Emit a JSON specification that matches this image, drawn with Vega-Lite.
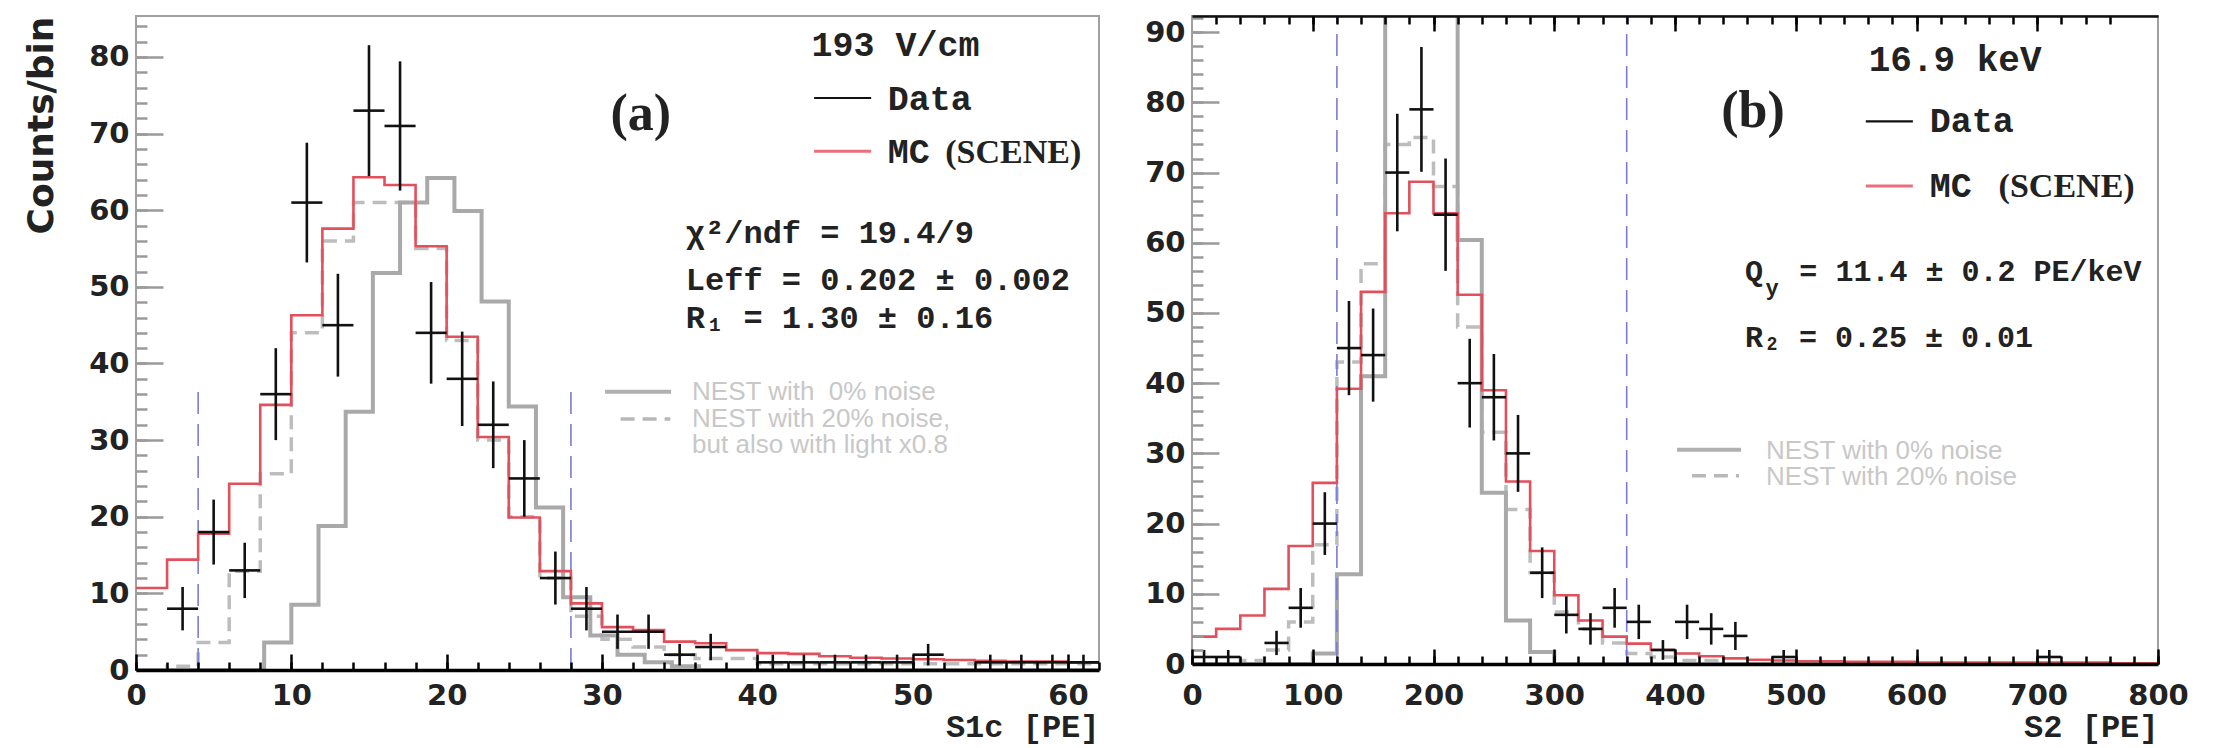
{
  "$schema": "https://vega.github.io/schema/vega-lite/v6.json",
  "background": "white",
  "padding": {"left": 22, "top": 13, "right": 0, "bottom": 20},
  "spacing": 35,
  "config": {
    "view": {"stroke": "#a0a0a0", "strokeWidth": 2},
    "axis": {"grid": false}
  },
  "datasets": {
    "a_nest0": [{"x":0,"y":0},{"x":8.25,"y":3.6},{"x":10,"y":8.5},{"x":11.75,"y":18.8},{"x":13.5,"y":33.7},{"x":15.25,"y":51.8},{"x":17,"y":61},{"x":18.75,"y":64.2},{"x":20.5,"y":59.9},{"x":22.25,"y":48.1},{"x":24,"y":34.4},{"x":25.75,"y":21.2},{"x":27.5,"y":9.5},{"x":29.25,"y":4.5},{"x":31,"y":2},{"x":32.75,"y":1},{"x":34.5,"y":0.5},{"x":36.25,"y":0},{"x":62,"y":0}],
    "a_nest20": [{"x":0,"y":0},{"x":2,"y":0.5},{"x":4,"y":3.6},{"x":6,"y":12.9},{"x":8,"y":25.6},{"x":10,"y":44},{"x":12,"y":56},{"x":14,"y":61},{"x":16,"y":61},{"x":18,"y":55},{"x":20,"y":43},{"x":22,"y":30},{"x":24,"y":20},{"x":26,"y":12},{"x":28,"y":7},{"x":30,"y":4},{"x":32,"y":3},{"x":34,"y":2},{"x":36,"y":1.5},{"x":40,"y":0.8},{"x":62,"y":0.8}],
    "a_mc": [{"x":0,"y":10.7},{"x":2,"y":14.4},{"x":4,"y":17.8},{"x":6,"y":24.3},{"x":8,"y":34.6},{"x":10,"y":46.3},{"x":12,"y":57.6},{"x":14,"y":64.3},{"x":16,"y":63.3},{"x":18,"y":55.3},{"x":20,"y":43.5},{"x":22,"y":30.4},{"x":24,"y":19.9},{"x":26,"y":12.9},{"x":28,"y":8.7},{"x":30,"y":5.6},{"x":32,"y":5.2},{"x":34,"y":3.7},{"x":36,"y":3.5},{"x":38,"y":2.6},{"x":40,"y":2.2},{"x":42,"y":2.1},{"x":44,"y":1.8},{"x":46,"y":1.6},{"x":48,"y":1.5},{"x":50,"y":1.4},{"x":52,"y":1.3},{"x":54,"y":1.2},{"x":56,"y":1.1},{"x":58,"y":1.1},{"x":60,"y":1},{"x":62,"y":1}],
    "a_data": [
      {"x":3,"y":8,"lo":5.17,"hi":10.83,"xl":2,"xr":4},
      {"x":5,"y":18,"lo":13.76,"hi":22.24,"xl":4,"xr":6},
      {"x":7,"y":13,"lo":9.39,"hi":16.61,"xl":6,"xr":8},
      {"x":9,"y":36,"lo":30,"hi":42,"xl":8,"xr":10},
      {"x":11,"y":61,"lo":53.19,"hi":68.81,"xl":10,"xr":12},
      {"x":13,"y":45,"lo":38.29,"hi":51.71,"xl":12,"xr":14},
      {"x":15,"y":73,"lo":64.46,"hi":81.54,"xl":14,"xr":16},
      {"x":17,"y":71,"lo":62.57,"hi":79.43,"xl":16,"xr":18},
      {"x":19,"y":44,"lo":37.37,"hi":50.63,"xl":18,"xr":20},
      {"x":21,"y":38,"lo":31.84,"hi":44.16,"xl":20,"xr":22},
      {"x":23,"y":32,"lo":26.34,"hi":37.66,"xl":22,"xr":24},
      {"x":25,"y":25,"lo":20,"hi":30,"xl":24,"xr":26},
      {"x":27,"y":12,"lo":8.54,"hi":15.46,"xl":26,"xr":28},
      {"x":29,"y":8,"lo":5.17,"hi":10.83,"xl":28,"xr":30},
      {"x":31,"y":5,"lo":2.76,"hi":7.24,"xl":30,"xr":32},
      {"x":33,"y":5,"lo":2.76,"hi":7.24,"xl":32,"xr":34},
      {"x":35,"y":2,"lo":0.59,"hi":3.41,"xl":34,"xr":36},
      {"x":37,"y":3,"lo":1.27,"hi":4.73,"xl":36,"xr":38},
      {"x":41,"y":1,"lo":0,"hi":2,"xl":40,"xr":42},
      {"x":43,"y":1,"lo":0,"hi":2,"xl":42,"xr":44},
      {"x":45,"y":1,"lo":0,"hi":2,"xl":44,"xr":46},
      {"x":47,"y":1,"lo":0,"hi":2,"xl":46,"xr":48},
      {"x":49,"y":1,"lo":0,"hi":2,"xl":48,"xr":50},
      {"x":51,"y":2,"lo":0.59,"hi":3.41,"xl":50,"xr":52},
      {"x":55,"y":1,"lo":0,"hi":2,"xl":54,"xr":56},
      {"x":57,"y":1,"lo":0,"hi":2,"xl":56,"xr":58},
      {"x":59,"y":1,"lo":0,"hi":2,"xl":58,"xr":60},
      {"x":61,"y":1,"lo":0,"hi":2,"xl":60,"xr":62}
    ],
    "b_nest0": [{"x":0,"y":0},{"x":100,"y":1.5},{"x":120,"y":12.8},{"x":140,"y":41},{"x":160,"y":100},{"x":220,"y":60.4},{"x":240,"y":24.4},{"x":260,"y":6.2},{"x":280,"y":1.7},{"x":300,"y":0},{"x":800,"y":0}],
    "b_nest20": [{"x":0,"y":0},{"x":40,"y":0.5},{"x":60,"y":2},{"x":80,"y":6},{"x":100,"y":17},{"x":120,"y":43},{"x":140,"y":57},{"x":160,"y":74},{"x":180,"y":75},{"x":200,"y":68},{"x":220,"y":48},{"x":240,"y":33},{"x":260,"y":22},{"x":280,"y":13},{"x":300,"y":7.4},{"x":320,"y":5},{"x":340,"y":3},{"x":360,"y":1.5},{"x":380,"y":1},{"x":400,"y":0.5},{"x":440,"y":0},{"x":800,"y":0}],
    "b_mc": [{"x":0,"y":3.9},{"x":20,"y":5},{"x":40,"y":6.9},{"x":60,"y":10.7},{"x":80,"y":16.8},{"x":100,"y":25.8},{"x":120,"y":39.2},{"x":140,"y":53},{"x":160,"y":64.2},{"x":180,"y":68.7},{"x":200,"y":64.2},{"x":220,"y":52.6},{"x":240,"y":39},{"x":260,"y":26},{"x":280,"y":16.1},{"x":300,"y":9.8},{"x":320,"y":6.2},{"x":340,"y":3.9},{"x":360,"y":2.9},{"x":380,"y":2},{"x":400,"y":1.5},{"x":420,"y":1.1},{"x":440,"y":0.8},{"x":460,"y":0.6},{"x":480,"y":0.5},{"x":500,"y":0.4},{"x":540,"y":0.3},{"x":600,"y":0.2},{"x":700,"y":0.2},{"x":760,"y":0.1},{"x":800,"y":0.1}],
    "b_data": [
      {"x":10,"y":1,"lo":0,"hi":2,"xl":0,"xr":20},
      {"x":30,"y":1,"lo":0,"hi":2,"xl":20,"xr":40},
      {"x":70,"y":3,"lo":1.27,"hi":4.73,"xl":60,"xr":80},
      {"x":90,"y":8,"lo":5.17,"hi":10.83,"xl":80,"xr":100},
      {"x":110,"y":20,"lo":15.53,"hi":24.47,"xl":100,"xr":120},
      {"x":130,"y":45,"lo":38.29,"hi":51.71,"xl":120,"xr":140},
      {"x":150,"y":44,"lo":37.37,"hi":50.63,"xl":140,"xr":160},
      {"x":170,"y":70,"lo":61.63,"hi":78.37,"xl":160,"xr":180},
      {"x":190,"y":79,"lo":70.11,"hi":87.89,"xl":180,"xr":200},
      {"x":210,"y":64,"lo":56,"hi":72,"xl":200,"xr":220},
      {"x":230,"y":40,"lo":33.68,"hi":46.32,"xl":220,"xr":240},
      {"x":250,"y":38,"lo":31.84,"hi":44.16,"xl":240,"xr":260},
      {"x":270,"y":30,"lo":24.52,"hi":35.48,"xl":260,"xr":280},
      {"x":290,"y":13,"lo":9.39,"hi":16.61,"xl":280,"xr":300},
      {"x":310,"y":7,"lo":4.35,"hi":9.65,"xl":300,"xr":320},
      {"x":330,"y":5,"lo":2.76,"hi":7.24,"xl":320,"xr":340},
      {"x":350,"y":8,"lo":5.17,"hi":10.83,"xl":340,"xr":360},
      {"x":370,"y":6,"lo":3.55,"hi":8.45,"xl":360,"xr":380},
      {"x":390,"y":2,"lo":0.59,"hi":3.41,"xl":380,"xr":400},
      {"x":410,"y":6,"lo":3.55,"hi":8.45,"xl":400,"xr":420},
      {"x":430,"y":5,"lo":2.76,"hi":7.24,"xl":420,"xr":440},
      {"x":450,"y":4,"lo":2,"hi":6,"xl":440,"xr":460},
      {"x":490,"y":1,"lo":0,"hi":2,"xl":480,"xr":500},
      {"x":710,"y":1,"lo":0,"hi":2,"xl":700,"xr":720}
    ]
  },
  "hconcat": [
    {
      "width": 963,
      "height": 654,
      "resolve": {"axis": {"x": "independent", "y": "independent"}},
      "layer": [
        {
          "data": {"name": "a_nest20"},
          "mark": {"type": "line", "interpolate": "step-after", "color": "#bdbdbd", "strokeWidth": 3.5, "strokeDash": [14, 8]},
          "encoding": {
            "x": {"field": "x", "type": "quantitative", "scale": {"domain": [0, 62], "nice": false, "zero": false},
              "axis": {"orient": "bottom", "values": [0,2,4,6,8,10,12,14,16,18,20,22,24,26,28,30,32,34,36,38,40,42,44,46,48,50,52,54,56,58,60,62], "tickSize": -8, "tickColor": "black", "tickWidth": 2.5, "labels": false, "domain": false, "title": null, "zindex": 2}},
            "y": {"field": "y", "type": "quantitative", "scale": {"domain": [0, 85.35], "nice": false, "zero": false},
              "axis": {"orient": "left", "values": [0,2,4,6,8,10,12,14,16,18,20,22,24,26,28,30,32,34,36,38,40,42,44,46,48,50,52,54,56,58,60,62,64,66,68,70,72,74,76,78,80,82,84], "tickSize": -11, "tickColor": "#9a9a9a", "tickWidth": 2.5, "labels": false, "domain": false, "title": null, "zindex": 1}}
          }
        },
        {
          "data": {"name": "a_nest0"},
          "mark": {"type": "line", "interpolate": "step-after", "color": "#a9a9a9", "strokeWidth": 4},
          "encoding": {
            "x": {"field": "x", "type": "quantitative", "scale": {"domain": [0, 62], "nice": false, "zero": false},
              "axis": {"orient": "bottom", "values": [0,10,20,30,40,50,60], "format": "d", "tickSize": -16, "tickColor": "black", "tickWidth": 2.5, "labelPadding": 27, "labelFont": "DejaVu Sans", "labelFontWeight": "bold", "labelFontSize": 29, "labelColor": "#222", "labelFlush": false, "labelOverlap": false, "domain": true, "domainColor": "black", "domainWidth": 3.5, "title": "S1c [PE]", "titleFont": "Liberation Mono", "titleFontSize": 32, "titleFontWeight": "bold", "titleColor": "#222", "titleAnchor": "end", "titlePadding": 1, "zindex": 2}},
            "y": {"field": "y", "type": "quantitative", "scale": {"domain": [0, 85.35], "nice": false, "zero": false},
              "axis": {"orient": "left", "values": [0,10,20,30,40,50,60,70,80], "format": "d", "tickSize": -27, "tickColor": "#9a9a9a", "tickWidth": 2.5, "labelPadding": 34, "labelFont": "DejaVu Sans", "labelFontWeight": "bold", "labelFontSize": 29, "labelColor": "#222", "labelFlush": false, "labelOverlap": false, "domain": false, "title": "Counts/bin", "titleFont": "DejaVu Sans", "titleFontSize": 36, "titleFontWeight": "bold", "titleColor": "#222", "titleAnchor": "end", "titlePadding": 28, "zindex": 1}}
          }
        },
        {
          "data": {"values": [{"x": 4, "y": 0, "y2": 36.5}, {"x": 28, "y": 0, "y2": 37}]},
          "mark": {"type": "rule", "color": "#7b7bd6", "strokeWidth": 1.6, "strokeDash": [22, 10]},
          "encoding": {
            "x": {"field": "x", "type": "quantitative", "scale": {"domain": [0, 62], "nice": false, "zero": false}, "axis": null},
            "y": {"field": "y", "type": "quantitative", "scale": {"domain": [0, 85.35], "nice": false, "zero": false}, "axis": null},
            "y2": {"field": "y2"}
          }
        },
        {
          "data": {"name": "a_mc"},
          "mark": {"type": "line", "interpolate": "step-after", "color": "#e2505c", "strokeWidth": 2.6},
          "encoding": {
            "x": {"field": "x", "type": "quantitative", "scale": {"domain": [0, 62], "nice": false, "zero": false}, "axis": null},
            "y": {"field": "y", "type": "quantitative", "scale": {"domain": [0, 85.35], "nice": false, "zero": false}, "axis": null}
          }
        },
        {
          "data": {"name": "a_data"},
          "mark": {"type": "rule", "color": "#111", "strokeWidth": 2.6},
          "encoding": {
            "x": {"field": "x", "type": "quantitative", "scale": {"domain": [0, 62], "nice": false, "zero": false}, "axis": null},
            "y": {"field": "lo", "type": "quantitative", "scale": {"domain": [0, 85.35], "nice": false, "zero": false}, "axis": null},
            "y2": {"field": "hi"}
          }
        },
        {
          "data": {"name": "a_data"},
          "mark": {"type": "rule", "color": "#111", "strokeWidth": 2.6},
          "encoding": {
            "x": {"field": "xl", "type": "quantitative", "scale": {"domain": [0, 62], "nice": false, "zero": false}, "axis": null},
            "x2": {"field": "xr"},
            "y": {"field": "y", "type": "quantitative", "scale": {"domain": [0, 85.35], "nice": false, "zero": false}, "axis": null}
          }
        },
        {
          "data": {"values": [{"x": 43.66, "x2": 47.33, "y": 74.65}]},
          "mark": {"type": "rule", "color": "#111", "strokeWidth": 2.2},
          "encoding": {
            "x": {"field": "x", "type": "quantitative", "scale": {"domain": [0, 62], "nice": false, "zero": false}, "axis": null},
            "x2": {"field": "x2"},
            "y": {"field": "y", "type": "quantitative", "scale": {"domain": [0, 85.35], "nice": false, "zero": false}, "axis": null}
          }
        },
        {
          "data": {"values": [{"x": 43.66, "x2": 47.33, "y": 67.7}]},
          "mark": {"type": "rule", "color": "#e8707c", "strokeWidth": 3},
          "encoding": {
            "x": {"field": "x", "type": "quantitative", "scale": {"domain": [0, 62], "nice": false, "zero": false}, "axis": null},
            "x2": {"field": "x2"},
            "y": {"field": "y", "type": "quantitative", "scale": {"domain": [0, 85.35], "nice": false, "zero": false}, "axis": null}
          }
        },
        {
          "data": {"values": [{"x": 30.2, "x2": 34.45, "y": 36.3}]},
          "mark": {"type": "rule", "color": "#b0b0b0", "strokeWidth": 4},
          "encoding": {
            "x": {"field": "x", "type": "quantitative", "scale": {"domain": [0, 62], "nice": false, "zero": false}, "axis": null},
            "x2": {"field": "x2"},
            "y": {"field": "y", "type": "quantitative", "scale": {"domain": [0, 85.35], "nice": false, "zero": false}, "axis": null}
          }
        },
        {
          "data": {"values": [{"x": 31.2, "x2": 34.4, "y": 32.75}]},
          "mark": {"type": "rule", "color": "#b8b8b8", "strokeWidth": 3.5, "strokeDash": [14, 8]},
          "encoding": {
            "x": {"field": "x", "type": "quantitative", "scale": {"domain": [0, 62], "nice": false, "zero": false}, "axis": null},
            "x2": {"field": "x2"},
            "y": {"field": "y", "type": "quantitative", "scale": {"domain": [0, 85.35], "nice": false, "zero": false}, "axis": null}
          }
        },
        {
          "data": {"values": [{"x": 48.9, "y": 80.1, "t": "193 V/cm"}]},
          "mark": {"type": "text", "font": "Liberation Mono", "fontWeight": "bold", "fontSize": 35, "align": "center", "baseline": "alphabetic", "color": "#222"},
          "encoding": {
            "x": {"field": "x", "type": "quantitative", "scale": {"domain": [0, 62], "nice": false, "zero": false}, "axis": null},
            "y": {"field": "y", "type": "quantitative", "scale": {"domain": [0, 85.35], "nice": false, "zero": false}, "axis": null},
            "text": {"field": "t"}
          }
        },
        {
          "data": {"values": [{"x": 48.4, "y": 73.1, "t": "Data"}, {"x": 48.4, "y": 66.2, "t": "MC"}]},
          "mark": {"type": "text", "font": "Liberation Mono", "fontWeight": "bold", "fontSize": 35, "align": "left", "baseline": "alphabetic", "color": "#222"},
          "encoding": {
            "x": {"field": "x", "type": "quantitative", "scale": {"domain": [0, 62], "nice": false, "zero": false}, "axis": null},
            "y": {"field": "y", "type": "quantitative", "scale": {"domain": [0, 85.35], "nice": false, "zero": false}, "axis": null},
            "text": {"field": "t"}
          }
        },
        {
          "data": {"values": [{"x": 52.1, "y": 66.2, "t": "(SCENE)"}]},
          "mark": {"type": "text", "font": "Liberation Serif", "fontWeight": "bold", "fontSize": 34, "align": "left", "baseline": "alphabetic", "color": "#222"},
          "encoding": {
            "x": {"field": "x", "type": "quantitative", "scale": {"domain": [0, 62], "nice": false, "zero": false}, "axis": null},
            "y": {"field": "y", "type": "quantitative", "scale": {"domain": [0, 85.35], "nice": false, "zero": false}, "axis": null},
            "text": {"field": "t"}
          }
        },
        {
          "data": {"values": [{"x": 32.5, "y": 70.5, "t": "(a)"}]},
          "mark": {"type": "text", "font": "Liberation Serif", "fontWeight": "bold", "fontSize": 52, "align": "center", "baseline": "alphabetic", "color": "#222"},
          "encoding": {
            "x": {"field": "x", "type": "quantitative", "scale": {"domain": [0, 62], "nice": false, "zero": false}, "axis": null},
            "y": {"field": "y", "type": "quantitative", "scale": {"domain": [0, 85.35], "nice": false, "zero": false}, "axis": null},
            "text": {"field": "t"}
          }
        },
        {
          "data": {"values": [{"x": 35.4, "y": 55.7, "t": "χ²/ndf = 19.4/9"}, {"x": 35.4, "y": 49.6, "t": "Leff = 0.202 ± 0.002"}, {"x": 35.4, "y": 44.6, "t": "R₁ = 1.30 ± 0.16"}]},
          "mark": {"type": "text", "font": "Liberation Mono", "fontWeight": "bold", "fontSize": 32, "align": "left", "baseline": "alphabetic", "color": "#222"},
          "encoding": {
            "x": {"field": "x", "type": "quantitative", "scale": {"domain": [0, 62], "nice": false, "zero": false}, "axis": null},
            "y": {"field": "y", "type": "quantitative", "scale": {"domain": [0, 85.35], "nice": false, "zero": false}, "axis": null},
            "text": {"field": "t"}
          }
        },
        {
          "data": {"values": [{"x": 35.8, "y": 35.2, "t": "NEST with \u00a00% noise"}, {"x": 35.8, "y": 31.7, "t": "NEST with 20% noise,"}, {"x": 35.8, "y": 28.3, "t": "but also with light x0.8"}]},
          "mark": {"type": "text", "font": "Liberation Sans", "fontSize": 26, "align": "left", "baseline": "alphabetic", "color": "#c8c8c8"},
          "encoding": {
            "x": {"field": "x", "type": "quantitative", "scale": {"domain": [0, 62], "nice": false, "zero": false}, "axis": null},
            "y": {"field": "y", "type": "quantitative", "scale": {"domain": [0, 85.35], "nice": false, "zero": false}, "axis": null},
            "text": {"field": "t"}
          }
        }
      ]
    },
    {
      "width": 966,
      "height": 648,
      "resolve": {"axis": {"x": "independent", "y": "independent"}},
      "layer": [
        {
          "data": {"name": "b_nest20"},
          "mark": {"type": "line", "interpolate": "step-after", "color": "#bdbdbd", "strokeWidth": 3.5, "strokeDash": [14, 8], "clip": true},
          "encoding": {
            "x": {"field": "x", "type": "quantitative", "scale": {"domain": [0, 800], "nice": false, "zero": false},
              "axis": {"orient": "bottom", "values": [0,20,40,60,80,100,120,140,160,180,200,220,240,260,280,300,320,340,360,380,400,420,440,460,480,500,520,540,560,580,600,620,640,660,680,700,720,740,760,780,800], "tickSize": -8, "tickColor": "black", "tickWidth": 2.5, "labels": false, "domain": false, "title": null, "zindex": 2}},
            "y": {"field": "y", "type": "quantitative", "scale": {"domain": [0, 92.3], "nice": false, "zero": false},
              "axis": {"orient": "left", "values": [0,2,4,6,8,10,12,14,16,18,20,22,24,26,28,30,32,34,36,38,40,42,44,46,48,50,52,54,56,58,60,62,64,66,68,70,72,74,76,78,80,82,84,86,88,90,92], "tickSize": -11, "tickColor": "#9a9a9a", "tickWidth": 2.5, "labels": false, "domain": false, "title": null, "zindex": 1}}
          }
        },
        {
          "data": {"name": "b_nest0"},
          "mark": {"type": "line", "interpolate": "step-after", "color": "#a9a9a9", "strokeWidth": 4, "clip": true},
          "encoding": {
            "x": {"field": "x", "type": "quantitative", "scale": {"domain": [0, 800], "nice": false, "zero": false},
              "axis": {"orient": "bottom", "values": [0,100,200,300,400,500,600,700,800], "format": "d", "tickSize": -15, "tickColor": "black", "tickWidth": 2.5, "labelPadding": 32, "labelFont": "DejaVu Sans", "labelFontWeight": "bold", "labelFontSize": 29, "labelColor": "#222", "labelFlush": false, "labelOverlap": false, "domain": true, "domainColor": "black", "domainWidth": 3.5, "title": "S2 [PE]", "titleFont": "Liberation Mono", "titleFontSize": 32, "titleFontWeight": "bold", "titleColor": "#222", "titleAnchor": "end", "titlePadding": 1, "zindex": 2}},
            "y": {"field": "y", "type": "quantitative", "scale": {"domain": [0, 92.3], "nice": false, "zero": false},
              "axis": {"orient": "left", "values": [0,10,20,30,40,50,60,70,80,90], "format": "d", "tickSize": -27, "tickColor": "#9a9a9a", "tickWidth": 2.5, "labelPadding": 34, "labelFont": "DejaVu Sans", "labelFontWeight": "bold", "labelFontSize": 29, "labelColor": "#222", "labelFlush": false, "labelOverlap": false, "domain": false, "title": null, "zindex": 1}}
          }
        },
        {
          "data": {"values": [{"x": 120, "y": 0, "y2": 92.3}, {"x": 360, "y": 0, "y2": 92.3}]},
          "mark": {"type": "rule", "color": "#7b7bd6", "strokeWidth": 1.6, "strokeDash": [22, 10]},
          "encoding": {
            "x": {"field": "x", "type": "quantitative", "scale": {"domain": [0, 800], "nice": false, "zero": false},
              "axis": {"orient": "top", "values": [20,40,60,80,100,120,140,160,180,200,220,240,260,280,300,320,340,360,380,400,420,440,460,480,500,520,540,560,580,600,620,640,660,680,700,720,740,760], "tickSize": -8, "tickColor": "black", "tickWidth": 2.5, "labels": false, "domain": true, "domainColor": "#111", "domainWidth": 2.5, "title": null, "zindex": 2}},
            "y": {"field": "y", "type": "quantitative", "scale": {"domain": [0, 92.3], "nice": false, "zero": false}, "axis": null},
            "y2": {"field": "y2"}
          }
        },
        {
          "data": {"name": "b_mc"},
          "mark": {"type": "line", "interpolate": "step-after", "color": "#e2505c", "strokeWidth": 2.6},
          "encoding": {
            "x": {"field": "x", "type": "quantitative", "scale": {"domain": [0, 800], "nice": false, "zero": false},
              "axis": {"orient": "top", "values": [100,200,300,400,500,600,700], "tickSize": -15, "tickColor": "black", "tickWidth": 2.5, "labels": false, "domain": false, "title": null, "zindex": 2}},
            "y": {"field": "y", "type": "quantitative", "scale": {"domain": [0, 92.3], "nice": false, "zero": false}, "axis": null}
          }
        },
        {
          "data": {"name": "b_data"},
          "mark": {"type": "rule", "color": "#111", "strokeWidth": 2.6},
          "encoding": {
            "x": {"field": "x", "type": "quantitative", "scale": {"domain": [0, 800], "nice": false, "zero": false}, "axis": null},
            "y": {"field": "lo", "type": "quantitative", "scale": {"domain": [0, 92.3], "nice": false, "zero": false}, "axis": null},
            "y2": {"field": "hi"}
          }
        },
        {
          "data": {"name": "b_data"},
          "mark": {"type": "rule", "color": "#111", "strokeWidth": 2.6},
          "encoding": {
            "x": {"field": "xl", "type": "quantitative", "scale": {"domain": [0, 800], "nice": false, "zero": false}, "axis": null},
            "x2": {"field": "xr"},
            "y": {"field": "y", "type": "quantitative", "scale": {"domain": [0, 92.3], "nice": false, "zero": false}, "axis": null}
          }
        },
        {
          "data": {"values": [{"x": 558, "x2": 597, "y": 77.3}]},
          "mark": {"type": "rule", "color": "#111", "strokeWidth": 2.2},
          "encoding": {
            "x": {"field": "x", "type": "quantitative", "scale": {"domain": [0, 800], "nice": false, "zero": false}, "axis": null},
            "x2": {"field": "x2"},
            "y": {"field": "y", "type": "quantitative", "scale": {"domain": [0, 92.3], "nice": false, "zero": false}, "axis": null}
          }
        },
        {
          "data": {"values": [{"x": 558, "x2": 597, "y": 68.1}]},
          "mark": {"type": "rule", "color": "#e8707c", "strokeWidth": 3},
          "encoding": {
            "x": {"field": "x", "type": "quantitative", "scale": {"domain": [0, 800], "nice": false, "zero": false}, "axis": null},
            "x2": {"field": "x2"},
            "y": {"field": "y", "type": "quantitative", "scale": {"domain": [0, 92.3], "nice": false, "zero": false}, "axis": null}
          }
        },
        {
          "data": {"values": [{"x": 401.7, "x2": 454.7, "y": 30.5}]},
          "mark": {"type": "rule", "color": "#b0b0b0", "strokeWidth": 4},
          "encoding": {
            "x": {"field": "x", "type": "quantitative", "scale": {"domain": [0, 800], "nice": false, "zero": false}, "axis": null},
            "x2": {"field": "x2"},
            "y": {"field": "y", "type": "quantitative", "scale": {"domain": [0, 92.3], "nice": false, "zero": false}, "axis": null}
          }
        },
        {
          "data": {"values": [{"x": 414, "x2": 453, "y": 26.8}]},
          "mark": {"type": "rule", "color": "#b8b8b8", "strokeWidth": 3.5, "strokeDash": [14, 8]},
          "encoding": {
            "x": {"field": "x", "type": "quantitative", "scale": {"domain": [0, 800], "nice": false, "zero": false}, "axis": null},
            "x2": {"field": "x2"},
            "y": {"field": "y", "type": "quantitative", "scale": {"domain": [0, 92.3], "nice": false, "zero": false}, "axis": null}
          }
        },
        {
          "data": {"values": [{"x": 632, "y": 84.4, "t": "16.9 keV"}]},
          "mark": {"type": "text", "font": "Liberation Mono", "fontWeight": "bold", "fontSize": 36, "align": "center", "baseline": "alphabetic", "color": "#222"},
          "encoding": {
            "x": {"field": "x", "type": "quantitative", "scale": {"domain": [0, 800], "nice": false, "zero": false}, "axis": null},
            "y": {"field": "y", "type": "quantitative", "scale": {"domain": [0, 92.3], "nice": false, "zero": false}, "axis": null},
            "text": {"field": "t"}
          }
        },
        {
          "data": {"values": [{"x": 611, "y": 75.8, "t": "Data"}, {"x": 611, "y": 66.5, "t": "MC"}]},
          "mark": {"type": "text", "font": "Liberation Mono", "fontWeight": "bold", "fontSize": 35, "align": "left", "baseline": "alphabetic", "color": "#222"},
          "encoding": {
            "x": {"field": "x", "type": "quantitative", "scale": {"domain": [0, 800], "nice": false, "zero": false}, "axis": null},
            "y": {"field": "y", "type": "quantitative", "scale": {"domain": [0, 92.3], "nice": false, "zero": false}, "axis": null},
            "text": {"field": "t"}
          }
        },
        {
          "data": {"values": [{"x": 668, "y": 66.5, "t": "(SCENE)"}]},
          "mark": {"type": "text", "font": "Liberation Serif", "fontWeight": "bold", "fontSize": 34, "align": "left", "baseline": "alphabetic", "color": "#222"},
          "encoding": {
            "x": {"field": "x", "type": "quantitative", "scale": {"domain": [0, 800], "nice": false, "zero": false}, "axis": null},
            "y": {"field": "y", "type": "quantitative", "scale": {"domain": [0, 92.3], "nice": false, "zero": false}, "axis": null},
            "text": {"field": "t"}
          }
        },
        {
          "data": {"values": [{"x": 464.6, "y": 76.5, "t": "(b)"}]},
          "mark": {"type": "text", "font": "Liberation Serif", "fontWeight": "bold", "fontSize": 52, "align": "center", "baseline": "alphabetic", "color": "#222"},
          "encoding": {
            "x": {"field": "x", "type": "quantitative", "scale": {"domain": [0, 800], "nice": false, "zero": false}, "axis": null},
            "y": {"field": "y", "type": "quantitative", "scale": {"domain": [0, 92.3], "nice": false, "zero": false}, "axis": null},
            "text": {"field": "t"}
          }
        },
        {
          "data": {"values": [{"x": 458, "y": 54.5, "t": "Q"}, {"x": 503, "y": 54.5, "t": "= 11.4 ± 0.2 PE/keV"}, {"x": 458, "y": 45.1, "t": "R₂ = 0.25 ± 0.01"}]},
          "mark": {"type": "text", "font": "Liberation Mono", "fontWeight": "bold", "fontSize": 30, "align": "left", "baseline": "alphabetic", "color": "#222"},
          "encoding": {
            "x": {"field": "x", "type": "quantitative", "scale": {"domain": [0, 800], "nice": false, "zero": false}, "axis": null},
            "y": {"field": "y", "type": "quantitative", "scale": {"domain": [0, 92.3], "nice": false, "zero": false}, "axis": null},
            "text": {"field": "t"}
          }
        },
        {
          "data": {"values": [{"x": 475, "y": 52.5, "t": "y"}]},
          "mark": {"type": "text", "font": "Liberation Mono", "fontWeight": "bold", "fontSize": 22, "align": "left", "baseline": "alphabetic", "color": "#222"},
          "encoding": {
            "x": {"field": "x", "type": "quantitative", "scale": {"domain": [0, 800], "nice": false, "zero": false}, "axis": null},
            "y": {"field": "y", "type": "quantitative", "scale": {"domain": [0, 92.3], "nice": false, "zero": false}, "axis": null},
            "text": {"field": "t"}
          }
        },
        {
          "data": {"values": [{"x": 475.4, "y": 29.2, "t": "NEST with 0% noise"}, {"x": 475.4, "y": 25.5, "t": "NEST with 20% noise"}]},
          "mark": {"type": "text", "font": "Liberation Sans", "fontSize": 26, "align": "left", "baseline": "alphabetic", "color": "#c8c8c8"},
          "encoding": {
            "x": {"field": "x", "type": "quantitative", "scale": {"domain": [0, 800], "nice": false, "zero": false}, "axis": null},
            "y": {"field": "y", "type": "quantitative", "scale": {"domain": [0, 92.3], "nice": false, "zero": false}, "axis": null},
            "text": {"field": "t"}
          }
        }
      ]
    }
  ]
}
